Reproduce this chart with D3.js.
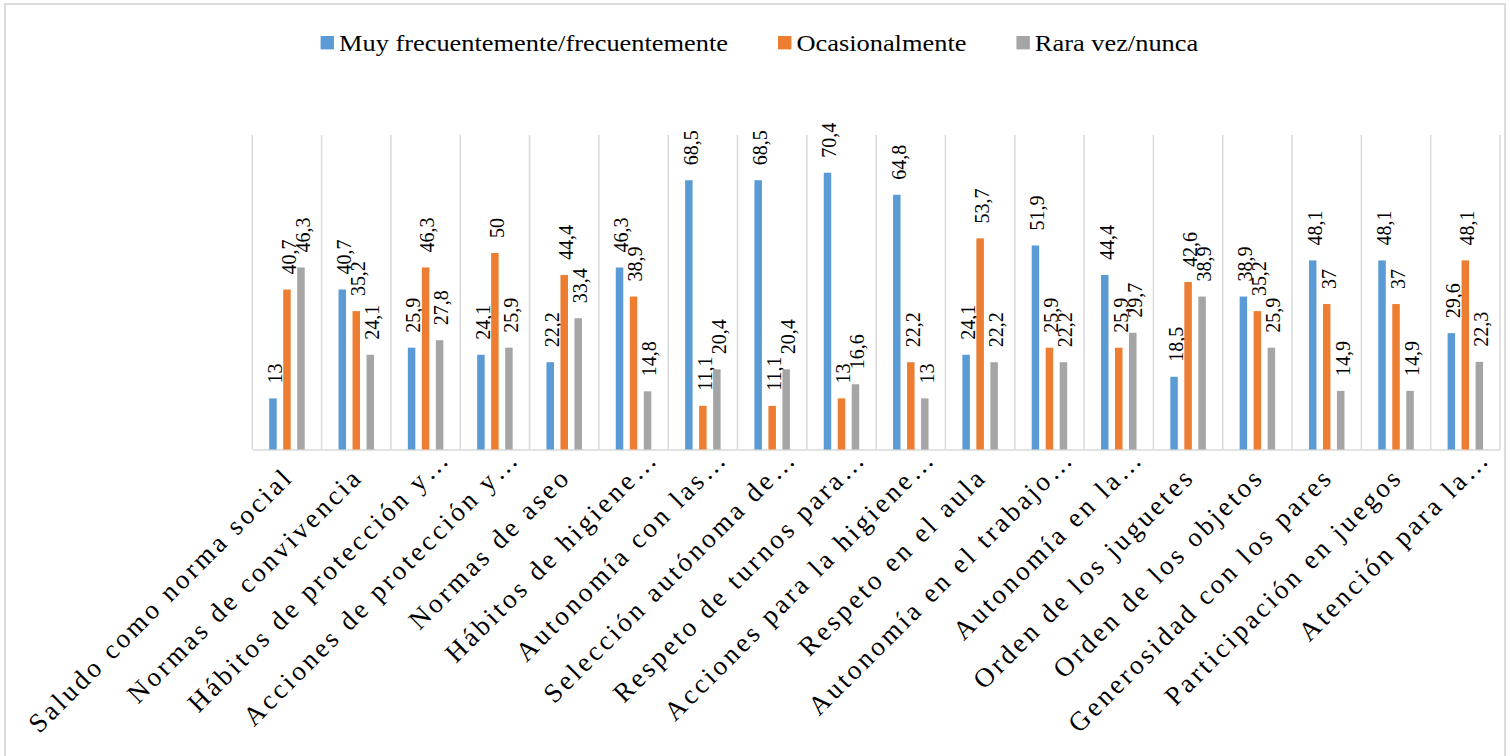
<!DOCTYPE html>
<html>
<head>
<meta charset="utf-8">
<script src="https://cdn.jsdelivr.net/npm/d3@7"></script>
<style>
  html, body { margin: 0; padding: 0; background: #fff; }
  svg { display: block; }
  text { font-family: "Liberation Serif", "Times New Roman", serif; fill: #000; }
</style>
</head>
<body>
<svg id="chart" width="1510" height="756"></svg>
<script>
const categories = [
  "Saludo como norma social",
  "Normas de convivencia",
  "Hábitos de protección y…",
  "Acciones de protección y…",
  "Normas de aseo",
  "Hábitos de higiene…",
  "Autonomía con las…",
  "Selección autónoma de…",
  "Respeto de turnos para…",
  "Acciones para la higiene…",
  "Respeto en el aula",
  "Autonomía en el trabajo…",
  "Autonomía en la…",
  "Orden de los juguetes",
  "Orden de los objetos",
  "Generosidad con los pares",
  "Participación en juegos",
  "Atención para la…"
];
const seriesNames = ["Muy frecuentemente/frecuentemente", "Ocasionalmente", "Rara vez/nunca"];
const seriesColors = ["#5B9BD5", "#ED7D31", "#A5A5A5"];
const frecuente   = [13, 40.7, 25.9, 24.1, 22.2, 46.3, 68.5, 68.5, 70.4, 64.8, 24.1, 51.9, 44.4, 18.5, 38.9, 48.1, 48.1, 29.6];
const ocasional   = [40.7, 35.2, 46.3, 50, 44.4, 38.9, 11.1, 11.1, 13, 22.2, 53.7, 25.9, 25.9, 42.6, 35.2, 37, 37, 48.1];
const raraVez     = [46.3, 24.1, 27.8, 25.9, 33.4, 14.8, 20.4, 20.4, 16.6, 13, 22.2, 22.2, 29.7, 38.9, 25.9, 14.9, 14.9, 22.3];
const seriesValues = [frecuente, ocasional, raraVez];
const yDomain = [0, 80];

const svg = d3.select("#chart");
const plotLeft = 252.3, plotRight = 1500, plotTop = 135, plotBottom = 449.5;

// chart border
svg.append("rect").attr("x", 5).attr("y", 4).attr("width", 1500).attr("height", 800)
  .attr("fill", "none").attr("stroke", "#D9D9D9").attr("stroke-width", 1.8);

const x0 = d3.scaleBand().domain(d3.range(categories.length)).range([plotLeft, plotRight]).padding(0);
const x1 = d3.scaleBand().domain(d3.range(3)).range([-21, 21]).paddingInner(0.464).paddingOuter(0.232);
const y = d3.scaleLinear().domain(yDomain).range([plotBottom, plotTop]);

// vertical gridlines at category boundaries
const bounds = d3.range(categories.length + 1).map(i => i < categories.length ? x0(i) : plotRight);
svg.append("g").selectAll("line").data(bounds).join("line")
  .attr("x1", d => d).attr("x2", d => d)
  .attr("y1", y(yDomain[1])).attr("y2", plotBottom)
  .attr("stroke", "#D9D9D9").attr("stroke-width", 1.5);

// x axis line
const xAxis = d3.axisBottom(x0).tickSize(0).tickFormat("");
const gx = svg.append("g").attr("transform", `translate(0,${plotBottom})`).call(xAxis);
gx.select(".domain").attr("stroke", "#D9D9D9").attr("stroke-width", 1.5);

// bars
const groups = svg.append("g").selectAll("g").data(categories).join("g")
  .attr("transform", (d, i) => `translate(${x0(i) + x0.bandwidth() / 2},0)`);

const fmt = v => String(v).replace(".", ",");

groups.each(function(c, i) {
  const g = d3.select(this);
  seriesValues.forEach((vals, s) => {
    const v = vals[i];
    g.append("rect")
      .attr("x", x1(s)).attr("width", x1.bandwidth())
      .attr("y", y(v)).attr("height", plotBottom - y(v))
      .attr("fill", seriesColors[s]);
    g.append("text")
      .attr("transform", `translate(${x1(s) + x1.bandwidth() / 2},${y(v) - 15}) scale(1.1,1) rotate(-90)`)
      .attr("dy", "0.4em")
      .attr("font-size", 20)
      .attr("text-anchor", "start")
      .text(fmt(v));
  });
});

// category labels
svg.append("g").selectAll("text").data(categories).join("text")
  .attr("transform", (d, i) => `translate(${x0(i) + x0.bandwidth() / 2 + 8},${plotBottom + 29}) rotate(-45)`)
  .attr("dx", d => d.endsWith("…") ? 26 : 0)
  .attr("text-anchor", "end")
  .attr("font-size", 27)
  .attr("letter-spacing", "3.1px")
  .text(d => d);

// legend
const legend = svg.append("g");
let lx = 0;
seriesNames.forEach((name, s) => {
  const it = legend.append("g");
  it.append("rect").attr("x", 0).attr("y", 36).attr("width", 13.4).attr("height", 13.4).attr("fill", seriesColors[s]);
  const t = it.append("text").attr("transform", "translate(18.4,50.7) scale(1.1,1)")
    .attr("font-size", 24).text(name);
  const w = 18.4 + t.node().getComputedTextLength() * 1.1;
  it.attr("transform", `translate(${lx},0)`);
  lx += w + 50;
});
const totalW = lx - 50;
legend.attr("transform", `translate(${759.4 - totalW / 2},0)`);
</script>
</body>
</html>
